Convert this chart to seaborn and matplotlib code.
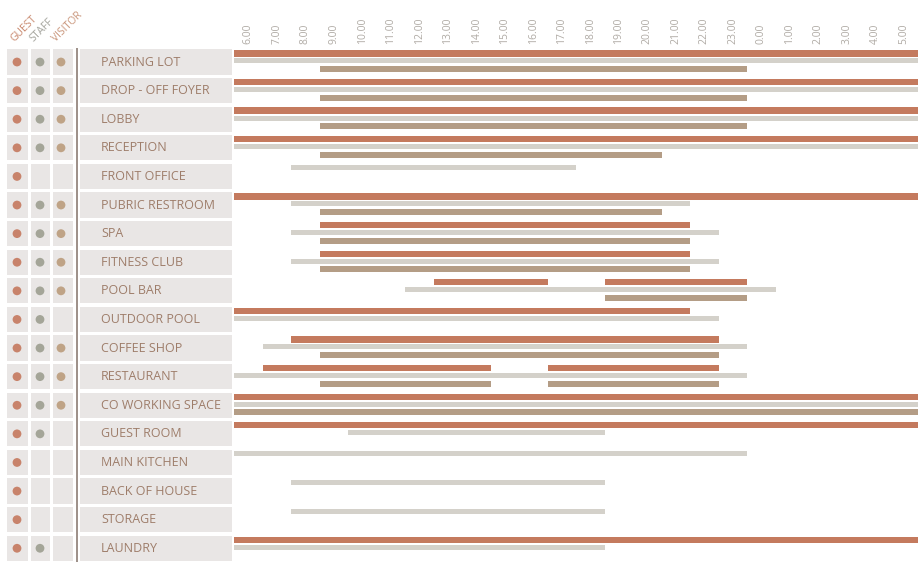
import matplotlib
matplotlib.use("Agg")
import matplotlib.pyplot as plt
import seaborn as sns
import pandas as pd

# spaces (top to bottom) and who uses them (dots on the left)
spaces = ['PARKING LOT', 'DROP - OFF FOYER', 'LOBBY', 'RECEPTION', 'FRONT OFFICE',
          'PUBRIC RESTROOM', 'SPA', 'FITNESS CLUB', 'POOL BAR', 'OUTDOOR POOL',
          'COFFEE SHOP', 'RESTAURANT', 'CO WORKING SPACE', 'GUEST ROOM',
          'MAIN KITCHEN', 'BACK OF HOUSE', 'STORAGE', 'LAUNDRY']
users = ['GUEST', 'STAFF', 'VISITOR']
has_guest = [1, 1, 1, 1, 1, 1, 1, 1, 1, 1, 1, 1, 1, 1, 1, 1, 1, 1]
has_staff = [1, 1, 1, 1, 0, 1, 1, 1, 1, 1, 1, 1, 1, 1, 0, 0, 0, 1]
has_visitor = [1, 1, 1, 1, 0, 1, 1, 1, 1, 0, 1, 1, 1, 0, 0, 0, 0, 0]

# time segments, hours on a 6 -> 30 scale (30 = 6.00 next morning)
seg_space = ['PARKING LOT'] * 3 + ['DROP - OFF FOYER'] * 3 + ['LOBBY'] * 3 + ['RECEPTION'] * 3 \
    + ['FRONT OFFICE'] + ['PUBRIC RESTROOM'] * 3 + ['SPA'] * 3 + ['FITNESS CLUB'] * 3 \
    + ['POOL BAR'] * 4 + ['OUTDOOR POOL'] * 2 + ['COFFEE SHOP'] * 3 + ['RESTAURANT'] * 5 \
    + ['CO WORKING SPACE'] * 3 + ['GUEST ROOM'] * 2 + ['MAIN KITCHEN', 'BACK OF HOUSE', 'STORAGE'] \
    + ['LAUNDRY'] * 2
seg_user = ['GUEST', 'STAFF', 'VISITOR'] * 4 + ['STAFF'] + ['GUEST', 'STAFF', 'VISITOR'] * 3 \
    + ['GUEST', 'GUEST', 'STAFF', 'VISITOR'] + ['GUEST', 'STAFF'] + ['GUEST', 'STAFF', 'VISITOR'] \
    + ['GUEST', 'GUEST', 'STAFF', 'VISITOR', 'VISITOR'] + ['GUEST', 'STAFF', 'VISITOR'] \
    + ['GUEST', 'STAFF'] + ['STAFF'] * 3 + ['GUEST', 'STAFF']
seg_start = [6, 6, 9, 6, 6, 9, 6, 6, 9, 6, 6, 9,
             8,
             6, 8, 9, 9, 8, 9, 9, 8, 9,
             13, 19, 12, 19,
             6, 6,
             8, 7, 9,
             7, 17, 6, 9, 17,
             6, 6, 6,
             6, 10,
             6, 8, 8,
             6, 6]
seg_end = [30, 30, 24, 30, 30, 24, 30, 30, 24, 30, 30, 21,
           18,
           30, 22, 21, 22, 23, 22, 22, 23, 22,
           17, 24, 25, 24,
           22, 23,
           23, 24, 23,
           15, 23, 24, 15, 23,
           30, 30, 30,
           30, 19,
           24, 19, 19,
           30, 19]

hour_labels = [f'{h % 24}.00' for h in range(6, 30)]

user_colors = {'GUEST': '#c47a5e', 'STAFF': '#d4d1ca', 'VISITOR': '#b49d86'}
dot_colors = {'GUEST': '#c8836b', 'STAFF': '#a4a598', 'VISITOR': '#bfa386'}
bar_height = {'GUEST': 0.22, 'STAFF': 0.17, 'VISITOR': 0.21}
lane_offset = [-0.3, -0.04, 0.25]

df = pd.DataFrame({'space': seg_space, 'user': seg_user, 'start': seg_start, 'end': seg_end})
df['row'] = df['space'].map({s: i for i, s in enumerate(spaces)})
# lane = order of the user among the users that have a bar in that row
present = df.groupby('space')['user'].apply(lambda u: [x for x in users if x in set(u)])
df['lane'] = [present[s].index(u) for s, u in zip(df['space'], df['user'])]
df['y'] = df['row'] + df['lane'].map(lambda k: lane_offset[k])

sns.set_style('white')
plt.rcParams['font.family'] = ['Open Sans', 'DejaVu Sans']

W, H = 918, 562
fig = plt.figure(figsize=(W / 100, H / 100), dpi=100)
top_px, left_px = 48, 234
ylim = (17.48, -0.49)

# ---- gantt part
ax = fig.add_axes([left_px / W, 0, 1 - left_px / W, 1 - top_px / H])
for user in users:
    d = df[df['user'] == user]
    ax.barh(d['y'], d['end'] - d['start'], left=d['start'], height=bar_height[user],
            color=user_colors[user], edgecolor='none')
ax.set_xlim(6, 30)
ax.set_ylim(*ylim)
ax.xaxis.tick_top()
ax.set_xticks([h + 0.5 for h in range(6, 30)])
ax.set_xticklabels(hour_labels, rotation=90, fontsize=7.5, color='#b0aba5')
ax.tick_params(axis='x', length=0, pad=3)
ax.set_yticks([])
for s in ax.spines.values():
    s.set_visible(False)

# ---- table part on the left
tab = fig.add_axes([0, 0, left_px / W, 1 - top_px / H])
tab.set_xlim(0, left_px)
tab.set_ylim(*ylim)
rows = list(range(len(spaces)))
for x0, x1 in [(7, 28), (31, 50), (53, 73), (80, 232)]:
    tab.barh(rows, x1 - x0, left=x0, height=0.88, color='#e9e6e5', edgecolor='none')
tab.axvline(77, color='#8c7d74', lw=1.2)

dots = pd.DataFrame({'row': rows * 3,
                     'user': ['GUEST'] * 18 + ['STAFF'] * 18 + ['VISITOR'] * 18,
                     'on': has_guest + has_staff + has_visitor})
dots['x'] = dots['user'].map({'GUEST': 17, 'STAFF': 40, 'VISITOR': 61})
dots = dots[dots['on'] == 1]
sns.scatterplot(data=dots, x='x', y='row', hue='user', palette=dot_colors, s=40,
                edgecolor='none', legend=False, ax=tab)
for i, name in enumerate(spaces):
    tab.text(101, i, name, fontsize=9, color='#9e7d6a', va='center', ha='left')
tab.set_xlabel('')
tab.set_ylabel('')
tab.set_xticks([])
tab.set_yticks([])
for s in tab.spines.values():
    s.set_visible(False)

# rotated column headers
head_colors = ['#c98a70', '#a3a39c', '#c9957a']
for name, x, c in zip(users, [16, 36, 58], head_colors):
    fig.text(x / W, 1 - 44 / H, name, rotation=45, rotation_mode='anchor',
             ha='left', va='bottom', fontsize=7.5, color=c)

fig.savefig('out.png', dpi=100)
